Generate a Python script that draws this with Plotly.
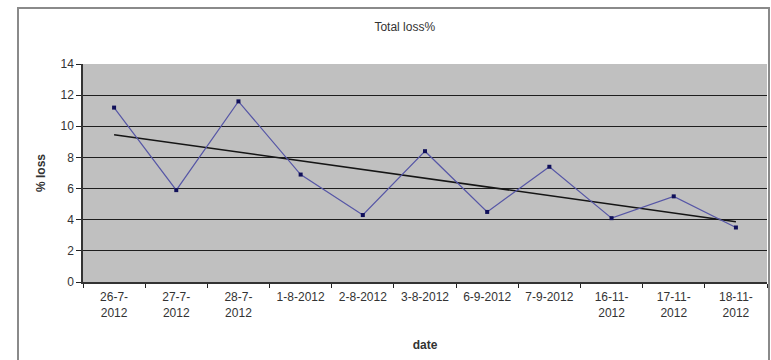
import numpy as np
import plotly.graph_objects as go

# Sampling dates and total loss percentages
dates = ["26-7-<br>2012", "27-7-<br>2012", "28-7-<br>2012", "1-8-2012", "2-8-2012",
         "3-8-2012", "6-9-2012", "7-9-2012", "16-11-<br>2012", "17-11-<br>2012",
         "18-11-<br>2012"]
loss_pct = [11.2, 5.9, 11.6, 6.9, 4.3, 8.4, 4.5, 7.4, 4.1, 5.5, 3.5]
y_ticks = [0, 2, 4, 6, 8, 10, 12, 14]

# Linear trend fitted over the category index
idx = np.arange(len(loss_pct))
slope, intercept = np.polyfit(idx, loss_pct, 1)
trend = slope * idx + intercept

FONT = "Liberation Sans, Arial, sans-serif"
TXT = "#333333"

fig = go.Figure()
fig.add_trace(go.Scatter(
    x=dates, y=trend, mode="lines",
    line=dict(color="#151515", width=1.5),
    hoverinfo="skip", showlegend=False,
))
fig.add_trace(go.Scatter(
    x=dates, y=loss_pct, mode="lines+markers",
    line=dict(color="#5656a6", width=1.2),
    marker=dict(symbol="square", size=4, color="#10105a"),
    showlegend=False,
))

fig.update_layout(
    width=771, height=360,
    margin=dict(l=83, r=4, t=64, b=78),
    paper_bgcolor="white",
    plot_bgcolor="#c0c0c0",
    font=dict(family=FONT, size=12, color=TXT),
    title=dict(text="Total loss%", x=0.525, xanchor="center",
               y=1 - 27 / 360, yanchor="middle",
               font=dict(family=FONT, size=12, color=TXT)),
    xaxis=dict(
        type="category", range=[-0.5, len(dates) - 0.5],
        tickson="boundaries", ticks="outside", ticklen=4, tickcolor="#222",
        ticklabelstandoff=3,
        showgrid=False, showline=True, linecolor="#333", linewidth=1.5,
        tickfont=dict(size=12, color=TXT),
        title=dict(text="<b>date</b>", font=dict(size=12, color=TXT), standoff=22),
    ),
    yaxis=dict(
        range=[0, 14], tickvals=y_ticks,
        ticks="outside", ticklen=5, tickcolor="#222",
        showgrid=True, gridcolor="#1e1e1e", gridwidth=1.3,
        zeroline=False, showline=True, linecolor="#333", linewidth=1.5,
        tickfont=dict(size=12, color=TXT),
        title=dict(text="<b>% loss</b>", font=dict(size=12, color=TXT), standoff=12),
    ),
    shapes=[dict(
        type="rect", xref="paper", yref="paper",
        x0=(18 - 83) / 684, x1=(769 - 83) / 684,
        y0=(282 - 380) / 218, y1=(282 - 8) / 218,
        line=dict(color="#8a8a8a", width=2), fillcolor="rgba(0,0,0,0)",
        layer="below",
    )],
)

fig.write_html("out.html")
